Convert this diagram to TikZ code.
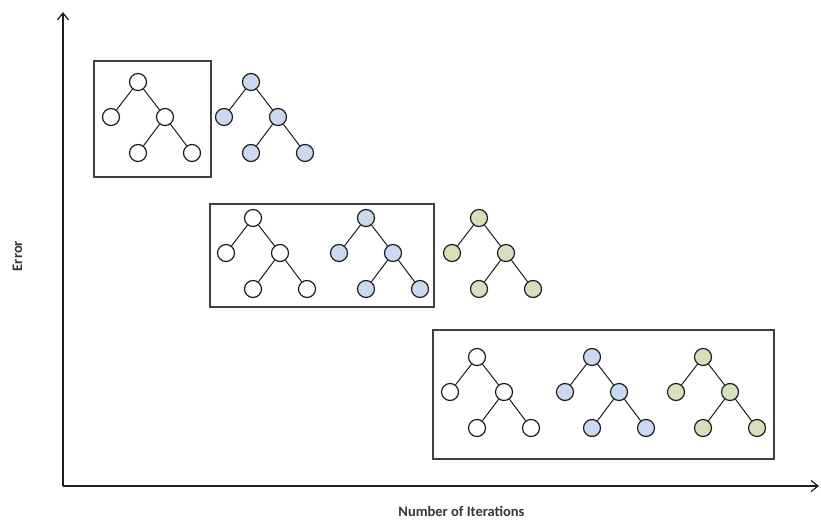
\documentclass[tikz,border=0pt]{standalone}
\usepackage{fontspec}
\setmainfont{Carlito}
\usetikzlibrary{arrows.meta}
\definecolor{inkline}{HTML}{1E1E1E}
\definecolor{treeblue}{HTML}{C8D9F0}
\definecolor{treegreen}{HTML}{D6E0BA}
\tikzset{
  leaf/.style={circle, draw=inkline, line width=1.2pt, minimum size=17pt, inner sep=0pt},
  branch/.style={draw=inkline, line width=1pt},
  groupbox/.style={draw=inkline!85, line width=1.1pt},
  axisline/.style={draw=inkline, line width=1.4pt, -{Straight Barb[length=7pt,width=11pt,line width=1.2pt]}},
  axislabel/.style={font=\fontsize{14.5}{16}\selectfont\bfseries, text=inkline!90, inner sep=0pt, anchor=base},
  pics/ensemtree/.style={code={
    \node[leaf, fill=#1] (-r) at (0,0) {};
    \node[leaf, fill=#1] (-l) at (-27,35) {};
    \node[leaf, fill=#1] (-m) at (27,35) {};
    \node[leaf, fill=#1] (-a) at (0,71) {};
    \node[leaf, fill=#1] (-b) at (54,71) {};
    \draw[branch] (-r) -- (-l);
    \draw[branch] (-r) -- (-m);
    \draw[branch] (-m) -- (-a);
    \draw[branch] (-m) -- (-b);
  }}
}
\begin{document}
\begin{tikzpicture}[x=1pt, y=-1pt]
\useasboundingbox (0,0) rectangle (821,521);

% axes
\coordinate (origin) at (63,486);
\coordinate (ytip) at (63,12);
\coordinate (xtip) at (819,486);
\draw[axisline] (origin) -- (ytip);
\draw[axisline] (origin) -- (xtip);
\node[axislabel, rotate=90] (ylab) at (22,256) {Error};
\node[axislabel] (xlab) at (461.5,516.5) {Number of Iterations};

% group boxes
\node[groupbox, minimum width=117pt, minimum height=116pt, inner sep=0pt] (box1) at (152.5,119) {};
\node[groupbox, minimum width=224pt, minimum height=103pt, inner sep=0pt] (box2) at (322,255.5) {};
\node[groupbox, minimum width=341pt, minimum height=129pt, inner sep=0pt] (box3) at (603.5,394.5) {};

% first row
\pic (t1) at (138,82) {ensemtree=white};
\pic (t2) at (251,82) {ensemtree=treeblue};

% second row
\pic (t3) at (253,218) {ensemtree=white};
\pic (t4) at (366,218) {ensemtree=treeblue};
\pic (t5) at (479,218) {ensemtree=treegreen};

% third row
\pic (t6) at (477,357) {ensemtree=white};
\pic (t7) at (592,357) {ensemtree=treeblue};
\pic (t8) at (703,357) {ensemtree=treegreen};
\end{tikzpicture}
\end{document}
